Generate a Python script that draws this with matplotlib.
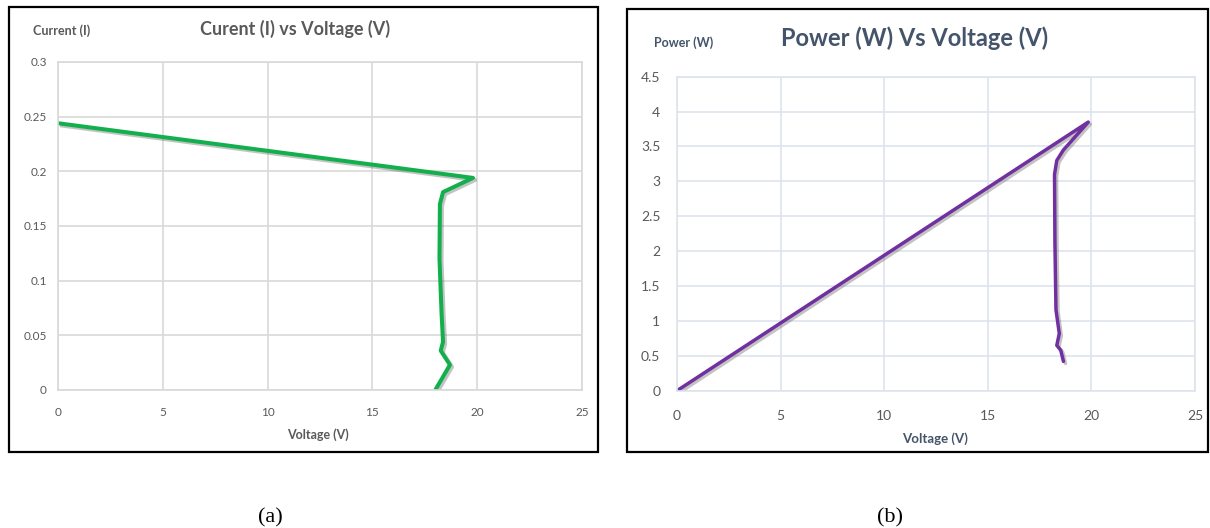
import matplotlib.pyplot as plt
import matplotlib.patheffects as pe
from matplotlib.patches import Rectangle
from matplotlib.ticker import FuncFormatter, MultipleLocator

# (a) current vs voltage
volt_iv = [0, 19.8, 18.37, 18.22, 18.2, 18.3, 18.37, 18.26, 18.7, 18.0]
current = [0.244, 0.194, 0.181, 0.17, 0.12, 0.07, 0.044, 0.036, 0.023, 0.0]

# (b) power vs voltage
volt_pv = [0, 19.85, 18.65, 18.33, 18.22, 18.24, 18.29, 18.45, 18.33, 18.52, 18.65]
power = [0, 3.85, 3.45, 3.3, 3.1, 2.11, 1.16, 0.82, 0.65, 0.58, 0.42]

W, H = 1210, 528
plt.rcParams['font.family'] = ['Lato', 'DejaVu Sans']

fig = plt.figure(figsize=(W / 100, H / 100), dpi=100)


def px_axes(x0, y0, x1, y1):
    # pixel box (top-left origin) -> figure fraction axes
    return fig.add_axes([x0 / W, 1 - y1 / H, (x1 - x0) / W, (y1 - y0) / H])


def frame(x0, y0, x1, y1):
    fig.patches.append(Rectangle((x0 / W, 1 - y1 / H), (x1 - x0) / W, (y1 - y0) / H,
                                 transform=fig.transFigure, fill=False,
                                 edgecolor='black', linewidth=1.6))


def style(ax, grid_col, tick_size, pad_x, pad_y):
    ax.grid(True, color=grid_col, linewidth=1.2)
    ax.set_axisbelow(True)
    for s in ax.spines.values():
        s.set_color(grid_col)
        s.set_linewidth(1.2)
    ax.tick_params(length=0, labelsize=tick_size, colors='#595959')
    ax.tick_params(axis='x', pad=pad_x)
    ax.tick_params(axis='y', pad=pad_y)
    ax.yaxis.set_major_formatter(FuncFormatter(lambda v, p: f'{v:g}'))
    ax.xaxis.set_major_formatter(FuncFormatter(lambda v, p: f'{v:g}'))


shadow = [pe.SimpleLineShadow(offset=(1.5, -1.5), shadow_color='#555555', alpha=0.35), pe.Normal()]

# ---- left chart ----
frame(9, 7, 598, 452)
ax1 = px_axes(58, 62, 582, 390)
ax1.plot(volt_iv, current, color='#12B04C', linewidth=2.9, solid_joinstyle='round',
         solid_capstyle='butt', path_effects=shadow)
ax1.set_xlim(0, 25)
ax1.set_ylim(0, 0.3)
ax1.xaxis.set_major_locator(MultipleLocator(5))
ax1.yaxis.set_major_locator(MultipleLocator(0.05))
style(ax1, '#D9D9D9', 8.5, 12, 8)
fig.text(295 / W, 1 - 29 / H, 'Curent (I) vs Voltage (V)', ha='center', va='center',
         fontsize=13, color='#595959', fontweight='bold')
fig.text(33 / W, 1 - 31 / H, 'Current (I)', ha='left', va='center',
         fontsize=9, color='#595959', fontweight='bold')
fig.text(318 / W, 1 - 435 / H, 'Voltage (V)', ha='center', va='center',
         fontsize=9, color='#595959', fontweight='bold')

# ---- right chart ----
frame(627, 9, 1208, 452)
ax2 = px_axes(677, 76.7, 1195, 390.7)
ax2.plot(volt_pv, power, color='#7030A0', linewidth=2.5, solid_joinstyle='round',
         solid_capstyle='round', path_effects=shadow)
ax2.set_xlim(0, 25)
ax2.set_ylim(0, 4.5)
ax2.xaxis.set_major_locator(MultipleLocator(5))
ax2.yaxis.set_major_locator(MultipleLocator(0.5))
style(ax2, '#DEE3EC', 10, 14, 12)
fig.text(915 / W, 1 - 38 / H, 'Power (W) Vs Voltage (V)', ha='center', va='center',
         fontsize=17, color='#44546A', fontweight='bold')
fig.text(654 / W, 1 - 43 / H, 'Power (W)', ha='left', va='center',
         fontsize=9, color='#44546A', fontweight='bold')
fig.text(935 / W, 1 - 439 / H, 'Voltage (V)', ha='center', va='center',
         fontsize=9.5, color='#44546A', fontweight='bold')

# sub-figure captions
fig.text(270 / W, 1 - 518 / H, '(a)', ha='center', va='center',
         fontsize=16, family='Liberation Serif')
fig.text(890 / W, 1 - 518 / H, '(b)', ha='center', va='center',
         fontsize=16, family='Liberation Serif')

fig.savefig('out.png', dpi=100)
